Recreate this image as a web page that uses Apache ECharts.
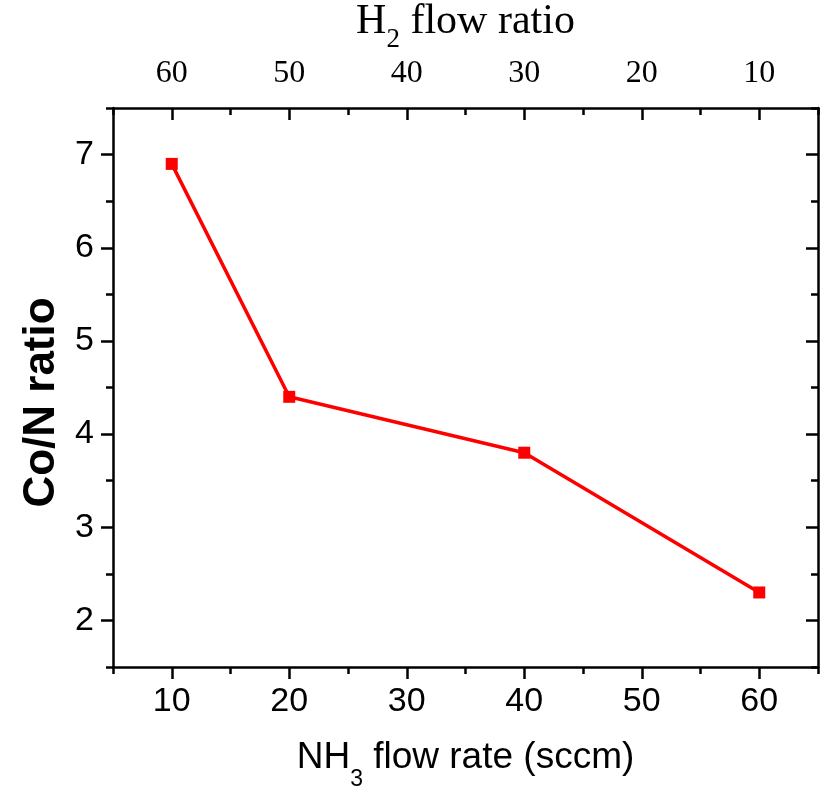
<!DOCTYPE html>
<html>
<head>
<meta charset="utf-8">
<script src="https://cdn.jsdelivr.net/npm/echarts@6/dist/echarts.min.js"></script>
<style>
  html, body { margin: 0; padding: 0; background: #fff; }
  #chart { width: 825px; height: 787px; }
</style>
</head>
<body>
<div id="chart"></div>
<script>
// Measured Co/N ratio against NH3 flow rate
const nh3Flow = [10, 20, 40, 60];
const coNRatio = [6.9, 4.4, 3.8, 2.3];

// Tick positions (bottom scale, sccm) and the matching H2 flow ratio labels for the top scale
const xMajorTicks = [10, 20, 30, 40, 50, 60];
const xMinorTicks = [5, 15, 25, 35, 45, 55, 65];
const h2FlowLabels = ['60', '50', '40', '30', '20', '10'];

const yMajorTicks = [2, 3, 4, 5, 6, 7];
const yMinorTicks = [1.5, 2.5, 3.5, 4.5, 5.5, 6.5, 7.5];

const SANS = '"Liberation Sans", Arial, sans-serif';
const SERIF = '"Liberation Serif", "Times New Roman", serif';
const INK = '#000';
const RED = '#ff0000';

const lineStyle = { color: INK, width: 2.5 };

// One helper for every axis layer; major and minor ticks are drawn on overlaid axes
function axis(opts) {
  const a = {
    type: 'value',
    min: opts.min,
    max: opts.max,
    position: opts.position,
    splitLine: { show: false },
    axisLine: { show: !!opts.line, onZero: false, lineStyle },
    axisTick: {
      show: true,
      inside: !!opts.inside,
      length: opts.tickLen,
      lineStyle,
      customValues: opts.ticks
    },
    axisLabel: opts.label
      ? Object.assign({ customValues: opts.ticks, color: INK }, opts.label)
      : { show: false }
  };
  return Object.assign(a, opts.extra || {});
}

const X_MIN = 5, X_MAX = 65, Y_MIN = 1.5, Y_MAX = 7.5;

const option = {
  animation: false,
  backgroundColor: '#fff',
  grid: { left: 113, right: 7, top: 108, bottom: 120, containLabel: false, outerBoundsMode: 'none' },
  xAxis: [
    axis({
      min: X_MIN, max: X_MAX, position: 'bottom', line: true, tickLen: 12, ticks: xMajorTicks,
      label: { fontSize: 34, fontFamily: SANS, margin: 18 },
      extra: {
        name: 'NH{sub|3} flow rate (sccm)',
        nameLocation: 'middle',
        nameGap: 58,
        nameTextStyle: {
          fontSize: 37, fontFamily: SANS, color: INK,
          rich: { sub: { fontSize: 23, lineHeight: 23, fontFamily: SANS, color: INK, padding: [44, 0, 0, 0] } }
        }
      }
    }),
    axis({ min: X_MIN, max: X_MAX, position: 'bottom', tickLen: 7, ticks: xMinorTicks }),
    axis({
      min: X_MIN, max: X_MAX, position: 'top', line: true, inside: true, tickLen: 12, ticks: xMajorTicks,
      label: {
        fontSize: 32, fontFamily: SERIF, margin: 18,
        formatter: (v) => h2FlowLabels[xMajorTicks.indexOf(v)]
      },
      extra: {
        name: 'H{sub|2} flow ratio',
        nameLocation: 'middle',
        nameGap: 52,
        nameTextStyle: {
          fontSize: 42, fontFamily: SERIF, color: INK,
          rich: { sub: { fontSize: 27, lineHeight: 27, fontFamily: SERIF, color: INK, padding: [36, 0, 0, 0] } }
        }
      }
    }),
    axis({ min: X_MIN, max: X_MAX, position: 'top', inside: true, tickLen: 7, ticks: xMinorTicks })
  ],
  yAxis: [
    axis({
      min: Y_MIN, max: Y_MAX, position: 'left', line: true, tickLen: 12, ticks: yMajorTicks,
      label: { fontSize: 34, fontFamily: SANS, margin: 19 },
      extra: {
        name: 'Co/N ratio',
        nameLocation: 'middle',
        nameRotate: 90,
        nameGap: 34,
        nameTextStyle: {
          fontSize: 44, fontFamily: SANS, fontWeight: 'bold', color: INK,
          padding: [0, 30, 0, 0]
        }
      }
    }),
    axis({ min: Y_MIN, max: Y_MAX, position: 'left', tickLen: 7, ticks: yMinorTicks }),
    axis({ min: Y_MIN, max: Y_MAX, position: 'right', line: true, inside: true, tickLen: 12, ticks: yMajorTicks }),
    axis({ min: Y_MIN, max: Y_MAX, position: 'right', inside: true, tickLen: 7, ticks: yMinorTicks })
  ],
  series: [{
    type: 'line',
    xAxisIndex: 0,
    yAxisIndex: 0,
    data: nh3Flow.map((x, i) => [x, coNRatio[i]]),
    symbol: 'rect',
    symbolSize: 12,
    itemStyle: { color: RED },
    lineStyle: { color: RED, width: 3.5 },
    z: 3
  }]
};

echarts.init(document.getElementById('chart'), null, { renderer: 'canvas' }).setOption(option);
</script>
</body>
</html>
